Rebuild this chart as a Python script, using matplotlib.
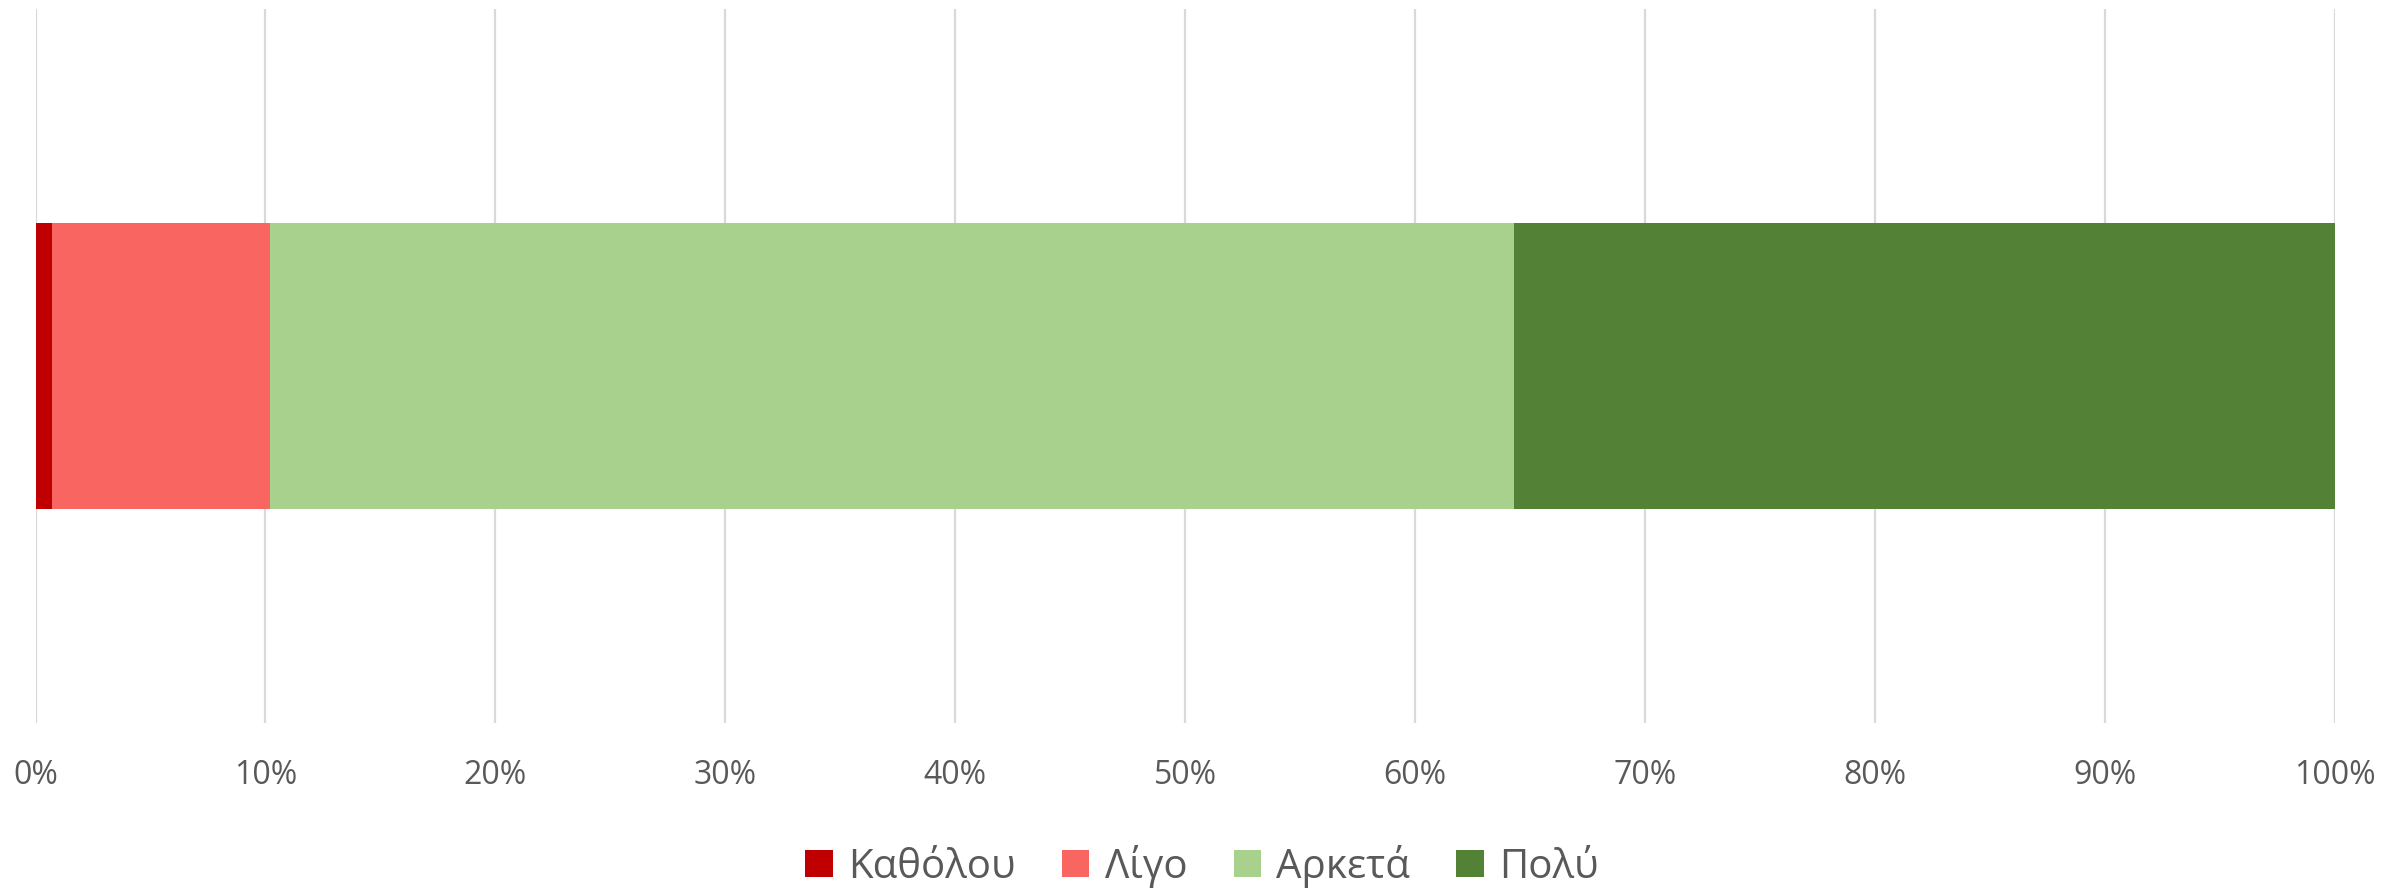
import matplotlib
matplotlib.use("Agg")
import matplotlib.pyplot as plt
from matplotlib.ticker import PercentFormatter, MultipleLocator

plt.rcParams['font.family'] = ['Open Sans', 'DejaVu Sans']

categories = ["Καθόλου", "Λίγο", "Αρκετά", "Πολύ"]
values = [0.7, 9.5, 54.1, 35.7]  # percent
colors = ["#C00000", "#F96661", "#A9D18E", "#538135"]

fig = plt.figure(figsize=(24.04, 8.92), dpi=100)
ax = fig.add_axes([35.5 / 2404, 1 - 723 / 892, (2335 - 35.5) / 2404, (723 - 9) / 892])

left = 0.0
for name, v, c in zip(categories, values, colors):
    ax.barh([0], [v], left=left, height=0.4, color=c, label=name, zorder=3)
    left += v

ax.set_xlim(0, 100)
ax.set_ylim(-0.5, 0.5)
ax.xaxis.set_major_locator(MultipleLocator(10))
ax.xaxis.set_major_formatter(PercentFormatter(100, decimals=0))
ax.set_yticks([])
ax.grid(axis='x', color='#D9D9D9', linewidth=1.6, zorder=0)
for s in ax.spines.values():
    s.set_visible(False)
ax.tick_params(axis='x', length=0, pad=26, labelsize=23, labelcolor='#595959')

fig.legend(loc='center', bbox_to_anchor=(0.5, 1 - 866 / 892), ncol=4, frameon=False,
           fontsize=29, labelcolor='#595959', handlelength=0.68, handleheight=0.68,
           handletextpad=0.38, columnspacing=1.15)

fig.savefig("out.png", dpi=100)
